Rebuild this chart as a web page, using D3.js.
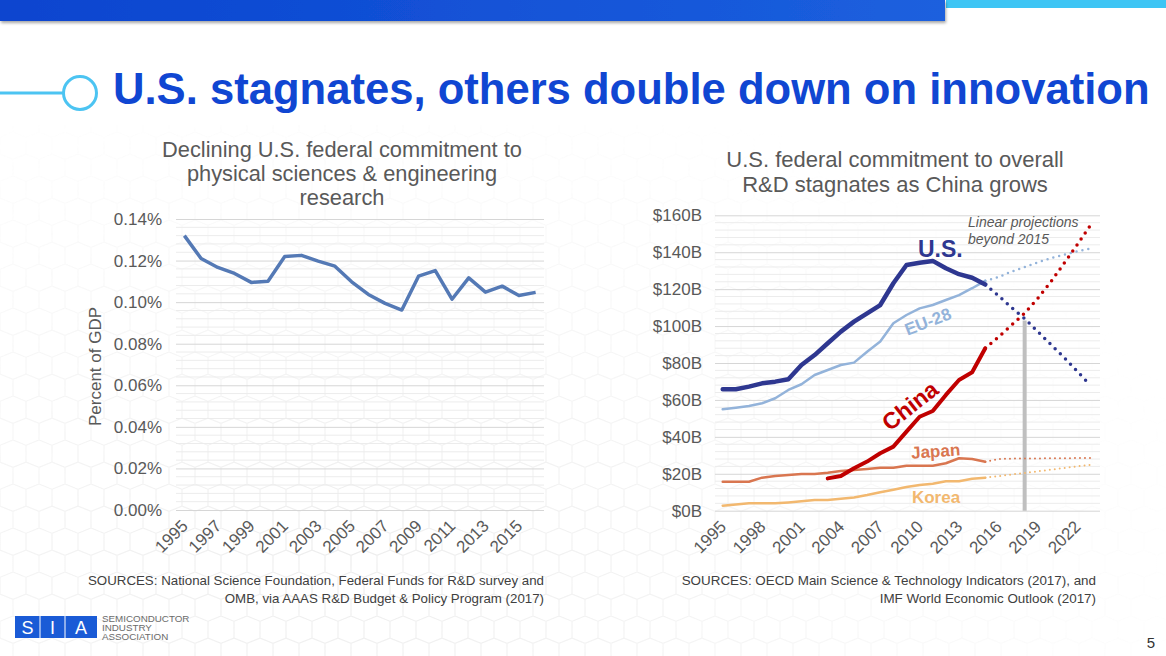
<!DOCTYPE html>
<html>
<head>
<meta charset="utf-8">
<script src="https://cdn.jsdelivr.net/npm/d3@7/dist/d3.min.js"></script>
<style>
  html, body { margin: 0; padding: 0; background: #ffffff; }
  svg { display: block; font-family: "Liberation Sans", Arial, sans-serif; }
</style>
</head>
<body>
<svg id="chart" width="1166" height="656"></svg>
<script>
// ---------------- DATA ----------------
const pageTitle = "U.S. stagnates, others double down on innovation";

// Left chart
const leftTitle = ["Declining U.S. federal commitment to", "physical sciences & engineering", "research"];
const leftYears = [1995,1996,1997,1998,1999,2000,2001,2002,2003,2004,2005,2006,2007,2008,2009,2010,2011,2012,2013,2014,2015,2016];
const leftValues = [0.132,0.121,0.1167,0.1138,0.1095,0.1101,0.1220,0.1225,0.1197,0.1173,0.1098,0.1037,0.0994,0.0962,0.1125,0.1152,0.1014,0.1117,0.1048,0.1077,0.1032,0.1047];
const leftYTicks = [0,0.02,0.04,0.06,0.08,0.10,0.12,0.14];
const leftXTicks = [1995,1997,1999,2001,2003,2005,2007,2009,2011,2013,2015];
const leftYLabel = "Percent of GDP";
const leftSources = ["SOURCES: National Science Foundation, Federal Funds for R&D survey and", "OMB, via AAAS R&D Budget & Policy Program (2017)"];

// Right chart
const rightTitle = ["U.S. federal commitment to overall", "R&D stagnates as China grows"];
const histYears = [1995,1996,1997,1998,1999,2000,2001,2002,2003,2004,2005,2006,2007,2008,2009,2010,2011,2012,2013,2014,2015];
const projYears = [2015,2016,2017,2018,2019,2020,2021,2022,2023];
const chinaYears = [2003,2004,2005,2006,2007,2008,2009,2010,2011,2012,2013,2014,2015];
const usValues    = [65.8,65.8,67.2,69.0,69.9,71.2,78.9,84.3,90.7,97,102.4,106.9,111.4,123.2,133.1,134.3,135.3,131.3,128.1,126.2,122.5];
const usProj      = [122.5,116.5,110,104,97,90,83,75.5,68];
const euValues    = [54.9,55.8,56.7,58.2,60.9,65.4,68.5,73.5,76.2,78.9,80.2,86.1,91.6,101.5,106,109.6,111.4,114.1,116.8,120.5,124.5];
const euProj      = [124.5,126.5,129.5,132,134.5,136.8,138.6,140.5,142];
const chinaValues = [17.5,18.8,23,26.6,31.1,34.7,42.8,50.9,54,62.7,70.8,75,88];
const chinaProj   = [88,94,100.5,107,115,124,134,144,154.5];
const japanValues = [15.7,15.7,15.7,17.9,18.8,19.3,19.9,19.9,20.6,21.5,22,22.6,23.3,23.3,24.4,24.4,24.4,25.7,28.4,28,26.5];
const japanProj   = [26.5,28.0,28.2,28.3,28.3,28.4,28.4,28.5,28.5];
const koreaValues = [2.7,3.3,4.0,4.0,4.0,4.5,5.1,5.8,5.8,6.5,7.2,8.5,10,11.4,12.8,13.9,14.6,15.9,15.9,17.3,17.9];
const koreaProj   = [17.9,18.7,19.6,20.4,21.3,22.2,23.1,24.0,24.8];
const crossoverYear = 2018;
const crossoverValue = 103;
const rightYTicks = [0,20,40,60,80,100,120,140,160];
const rightXTicks = [1995,1998,2001,2004,2007,2010,2013,2016,2019,2022];
const projNote = ["Linear projections", "beyond 2015"];
const rightSources = ["SOURCES: OECD Main Science & Technology Indicators (2017), and", "IMF World Economic Outlook (2017)"];

// ---------------- DRAW ----------------
const svg = d3.select("#chart");
const defs = svg.append("defs");
const grad = defs.append("linearGradient").attr("id", "bannerGrad").attr("x1", "0").attr("x2", "1");
grad.append("stop").attr("offset", "0").attr("stop-color", "#0a44cf");
grad.append("stop").attr("offset", "1").attr("stop-color", "#1c60de");
const shadow = defs.append("filter").attr("id", "shadow").attr("x", "-5%").attr("y", "-50%").attr("width", "110%").attr("height", "250%");
shadow.append("feDropShadow").attr("dx", 1).attr("dy", 2).attr("stdDeviation", 1.5).attr("flood-color", "#000").attr("flood-opacity", 0.35);

// faint hexagon background pattern
const hexW = 26, hexH = 44;
const pat = defs.append("pattern").attr("id", "hex").attr("patternUnits", "userSpaceOnUse")
  .attr("width", hexW).attr("height", hexH);
pat.append("path").attr("fill", "none").attr("stroke", "#e9e9e9").attr("stroke-width", 1.2)
  .attr("d", `M0,${hexH*0.12} L${hexW/2},0 L${hexW},${hexH*0.12} M${hexW/2},0 L${hexW/2},0 M0,${hexH*0.12} L0,${hexH*0.5} L${hexW/2},${hexH*0.62} L${hexW},${hexH*0.5} L${hexW},${hexH*0.12} M${hexW/2},${hexH*0.62} L${hexW/2},${hexH}`);
const fade = defs.append("radialGradient").attr("id", "fade").attr("cx", "0.3").attr("cy", "0.85").attr("r", "0.75");
fade.append("stop").attr("offset", "0").attr("stop-color", "#fff").attr("stop-opacity", 1);
fade.append("stop").attr("offset", "1").attr("stop-color", "#fff").attr("stop-opacity", 0);
const mask = defs.append("mask").attr("id", "hexMask");
mask.append("rect").attr("width", 1166).attr("height", 656).attr("fill", "url(#fade)");
svg.append("rect").attr("x", 0).attr("y", 125).attr("width", 1166).attr("height", 531)
  .attr("fill", "url(#hex)").attr("mask", "url(#hexMask)").attr("opacity", 0.8);

// Banner
svg.append("rect").attr("x", 946).attr("y", 0).attr("width", 220).attr("height", 8).attr("fill", "#3ec5f4");
svg.append("rect").attr("x", 0).attr("y", 0).attr("width", 945).attr("height", 21).attr("fill", "url(#bannerGrad)").attr("filter", "url(#shadow)");

// Title decoration
svg.append("line").attr("x1", 0).attr("x2", 63).attr("y1", 93).attr("y2", 93).attr("stroke", "#4cc4f2").attr("stroke-width", 3);
svg.append("circle").attr("cx", 80).attr("cy", 93).attr("r", 16.5).attr("fill", "none").attr("stroke", "#4cc4f2").attr("stroke-width", 3);
const titleT = svg.append("text").attr("x", 113).attr("y", 104).attr("font-size", 42).attr("font-weight", "bold")
  .attr("fill", "#1046d2").text(pageTitle);
{
  const w = titleT.node().getComputedTextLength();
  titleT.attr("font-size", 42 * 1037 / w);
}

const axisColor = "#595959";

// ---------- Left chart ----------
const L = { x0: 176, x1: 544, y0: 510, y1: 219 };
const lx = d3.scalePoint().domain(leftYears).range([L.x0, L.x1]).padding(0.5);
const ly = d3.scaleLinear().domain([0, 0.14]).range([L.y0, L.y1]);

const lg = svg.append("g");
lg.selectAll("text.lt").data(leftTitle).join("text")
  .attr("x", 342).attr("y", (d, i) => 157 + i * 24.2).attr("text-anchor", "middle")
  .attr("font-size", 21.8).attr("fill", axisColor).text(d => d);

// minor grid
const leftMinor = d3.range(0, 0.1401, 0.004).filter(v => Math.abs(v / 0.02 - Math.round(v / 0.02)) > 1e-6);
lg.selectAll("line.lmin").data(leftMinor).join("line")
  .attr("x1", L.x0).attr("x2", L.x1).attr("y1", d => ly(d)).attr("y2", d => ly(d))
  .attr("stroke", "#ececec").attr("stroke-width", 1);
const lAxis = d3.axisLeft(ly).tickValues(leftYTicks).tickSize(-(L.x1 - L.x0)).tickPadding(14).tickFormat(d => d3.format(".2f")(d) + "%");
const lAx = lg.append("g").attr("transform", `translate(${L.x0},0)`).call(lAxis);
lAx.select(".domain").remove();
lAx.selectAll(".tick line").attr("stroke", "#d6d6d6");
lAx.selectAll(".tick text").attr("font-size", 17).attr("fill", axisColor).attr("font-family", "Liberation Sans, Arial, sans-serif");

const lxAxis = d3.axisBottom(lx).tickValues(leftXTicks).tickSize(0).tickPadding(0);
const lxAx = lg.append("g").attr("transform", `translate(0,${L.y0})`).call(lxAxis);
lxAx.select(".domain").remove();
lxAx.selectAll(".tick text").attr("font-size", 17).attr("fill", axisColor)
  .attr("font-family", "Liberation Sans, Arial, sans-serif")
  .attr("text-anchor", "end").attr("dy", null)
  .attr("transform", "translate(4,17) rotate(-45)");

lg.append("text").attr("transform", `translate(101,${(L.y0 + L.y1) / 2 + 2}) rotate(-90)`)
  .attr("text-anchor", "middle").attr("font-size", 17).attr("fill", axisColor).text(leftYLabel);

lg.append("path").datum(leftValues.map((v, i) => [leftYears[i], v]))
  .attr("fill", "none").attr("stroke", "#5479b5").attr("stroke-width", 3.5).attr("stroke-linejoin", "round")
  .attr("d", d3.line().x(d => lx(d[0])).y(d => ly(d[1])));

lg.selectAll("text.ls").data(leftSources).join("text")
  .attr("x", 544).attr("y", (d, i) => 585 + i * 18).attr("text-anchor", "end")
  .attr("font-size", 13.3).attr("fill", "#404040").text(d => d);

// ---------- Right chart ----------
const R = { x0: 715, x1: 1100, y0: 510.7, y1: 215.3 };
const rx = d3.scaleLinear().domain([1995, 2023]).range([722.7, 1090.3]);
const ry = d3.scaleLinear().domain([0, 160]).range([R.y0, R.y1]);

const rg = svg.append("g");
rg.selectAll("text.rt").data(rightTitle).join("text")
  .attr("x", 895).attr("y", (d, i) => 167 + i * 25).attr("text-anchor", "middle")
  .attr("font-size", 22).attr("fill", axisColor).text(d => d);

const rightMinor = d3.range(0, 160.01, 4).filter(v => v % 20 !== 0);
rg.selectAll("line.rmin").data(rightMinor).join("line")
  .attr("x1", R.x0).attr("x2", R.x1).attr("y1", d => ry(d)).attr("y2", d => ry(d))
  .attr("stroke", "#ececec").attr("stroke-width", 1);
const rAxis = d3.axisLeft(ry).tickValues(rightYTicks).tickSize(-(R.x1 - R.x0)).tickPadding(13).tickFormat(d => "$" + d + "B");
const rAx = rg.append("g").attr("transform", `translate(${R.x0},0)`).call(rAxis);
rAx.select(".domain").remove();
rAx.selectAll(".tick line").attr("stroke", "#d6d6d6");
rAx.selectAll(".tick text").attr("font-size", 17).attr("fill", axisColor).attr("font-family", "Liberation Sans, Arial, sans-serif");

const rxAxis = d3.axisBottom(rx).tickValues(rightXTicks).tickSize(0).tickPadding(0).tickFormat(d3.format("d"));
const rxAx = rg.append("g").attr("transform", `translate(0,${R.y0})`).call(rxAxis);
rxAx.select(".domain").remove();
rxAx.selectAll(".tick text").attr("font-size", 17).attr("fill", axisColor)
  .attr("font-family", "Liberation Sans, Arial, sans-serif")
  .attr("text-anchor", "end").attr("dy", null)
  .attr("transform", "translate(4,17) rotate(-45)");

// crossover gray line
rg.append("line").attr("x1", rx(crossoverYear)).attr("x2", rx(crossoverYear))
  .attr("y1", ry(0)).attr("y2", ry(crossoverValue)).attr("stroke", "#bfbfbf").attr("stroke-width", 4);

const line = d3.line().x(d => rx(d[0])).y(d => ry(d[1]));
const zip = (xs, vs) => vs.map((v, i) => [xs[i], v]);

function solid(xs, vs, color, w) {
  rg.append("path").datum(zip(xs, vs)).attr("fill", "none").attr("stroke", color)
    .attr("stroke-width", w).attr("stroke-linejoin", "round").attr("stroke-linecap", "round").attr("d", line);
}
function dotted(xs, vs, color, w, gap) {
  rg.append("path").datum(zip(xs, vs)).attr("fill", "none").attr("stroke", color)
    .attr("stroke-width", w).attr("stroke-linecap", "round").attr("stroke-dasharray", `0,${gap}`).attr("d", line);
}

const cUS = "#2e3790", cEU = "#93b3da", cCN = "#c00000", cJP = "#d97650", cKR = "#f2b86f";

dotted(projYears, koreaProj, cKR, 2, 5);
dotted(projYears, japanProj, cJP, 2, 5);
solid(histYears, koreaValues, cKR, 2.5);
solid(histYears, japanValues, cJP, 2.5);
dotted(projYears, euProj, cEU, 2.5, 6);
solid(histYears, euValues, cEU, 2.5);
dotted(projYears, chinaProj, cCN, 3.5, 7.3);
solid(chinaYears, chinaValues, cCN, 4);
dotted(projYears, usProj, cUS, 3.5, 7.3);
solid(histYears, usValues, cUS, 4.5);

// series labels
rg.append("text").attr("x", 918).attr("y", 257).attr("font-size", 23).attr("font-weight", "bold").attr("fill", cUS).text("U.S.");
rg.append("text").attr("transform", "translate(930,327) rotate(-21)").attr("text-anchor", "middle")
  .attr("font-size", 17).attr("font-weight", "bold").attr("fill", cEU).text("EU-28");
rg.append("text").attr("transform", "translate(915,412) rotate(-38)").attr("text-anchor", "middle")
  .attr("font-size", 23).attr("font-weight", "bold").attr("fill", cCN).text("China");
rg.append("text").attr("transform", "translate(936,457) rotate(-4)").attr("text-anchor", "middle")
  .attr("font-size", 17).attr("font-weight", "bold").attr("fill", cJP).text("Japan");
rg.append("text").attr("x", 936).attr("y", 503).attr("text-anchor", "middle")
  .attr("font-size", 17).attr("font-weight", "bold").attr("fill", cKR).text("Korea");

rg.selectAll("text.pn").data(projNote).join("text")
  .attr("x", 968).attr("y", (d, i) => 227 + i * 16.5).attr("font-size", 14).attr("font-style", "italic")
  .attr("fill", axisColor).text(d => d);

rg.selectAll("text.rs").data(rightSources).join("text")
  .attr("x", 1096).attr("y", (d, i) => 585 + i * 18).attr("text-anchor", "end")
  .attr("font-size", 13.4).attr("fill", "#404040").text(d => d);

// ---------- Footer ----------
const logo = svg.append("g");
logo.append("rect").attr("x", 15).attr("y", 616).attr("width", 82).attr("height", 22).attr("fill", "#1a5bd6");
[40, 65].forEach(x => logo.append("line").attr("x1", x).attr("x2", x).attr("y1", 616).attr("y2", 638).attr("stroke", "#fff").attr("stroke-width", 1));
[["S", 27.5], ["I", 52.5], ["A", 81]].forEach(([t, x]) =>
  logo.append("text").attr("x", x).attr("y", 634).attr("text-anchor", "middle").attr("font-size", 18).attr("fill", "#fff").text(t));
["SEMICONDUCTOR", "INDUSTRY", "ASSOCIATION"].forEach((t, i) =>
  logo.append("text").attr("x", 102).attr("y", 622 + i * 9).attr("font-size", 9.8).attr("fill", "#6b6b6b").text(t));

svg.append("text").attr("x", 1155).attr("y", 648).attr("text-anchor", "end").attr("font-size", 15).attr("fill", "#333").text("5");
</script>
</body>
</html>
